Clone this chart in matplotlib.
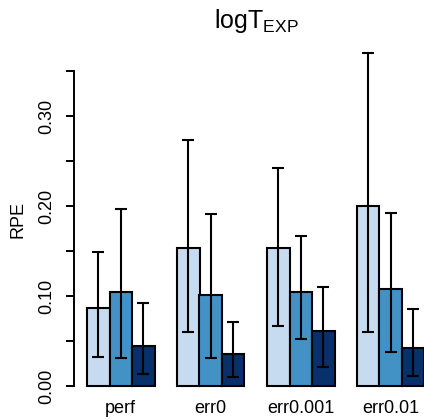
"""Grouped bar chart of RPE with asymmetric error bars (logT_EXP)."""
import matplotlib
matplotlib.use("Agg")
import matplotlib.pyplot as plt
import numpy as np

plt.rcParams['font.family'] = ['Liberation Sans', 'DejaVu Sans']
plt.rcParams['mathtext.fontset'] = 'custom'
plt.rcParams['mathtext.rm'] = 'Liberation Sans'

# data
groups = ["perf", "err0", "err0.001", "err0.01"]
series_means = [
    [0.087, 0.154, 0.154, 0.200],   # light
    [0.105, 0.101, 0.105, 0.108],   # mid
    [0.045, 0.036, 0.062, 0.043],   # dark
]
series_low = [
    [0.033, 0.060, 0.067, 0.060],
    [0.032, 0.031, 0.053, 0.038],
    [0.014, 0.010, 0.021, 0.012],
]
series_high = [
    [0.149, 0.274, 0.243, 0.370],
    [0.197, 0.191, 0.167, 0.193],
    [0.093, 0.071, 0.110, 0.086],
]
colors = ["#C6DBEF", "#4292C6", "#08306B"]
yticks = [0.00, 0.05, 0.10, 0.15, 0.20, 0.25, 0.30, 0.35]
ylabels = ["0.00", "", "0.10", "", "0.20", "", "0.30", ""]

W, H = 424, 420
fig = plt.figure(figsize=(W / 100, H / 100), dpi=100)

# plot region in pixels (right edge lies beyond the figure, as in the original)
x0_px, x1_px = 73.5, 438.0
y_zero_px = 420 - 386.3
ppu = 900.0
ylo, yhi = -0.014, 0.40
ax = fig.add_axes([x0_px / W, (y_zero_px + ylo * ppu) / H,
                   (x1_px - x0_px) / W, (yhi - ylo) * ppu / H])
ax.set_xlim(0.4, 16.6)
ax.set_ylim(ylo, yhi)

ngroups = len(groups)
for j in range(3):
    lefts = np.array([1 + 4 * g + j for g in range(ngroups)], dtype=float)
    centers = lefts + 0.5
    means = np.array(series_means[j])
    ax.bar(lefts, means, width=1.0, align='edge', color=colors[j],
           edgecolor='black', linewidth=1.5, zorder=2)
    low = means - np.array(series_low[j])
    high = np.array(series_high[j]) - means
    ax.errorbar(centers, means, yerr=[low, high], fmt='none', ecolor='black',
                elinewidth=1.5, capsize=4.3, capthick=1.5, zorder=3,
                clip_on=False)

for s in ['top', 'right', 'bottom']:
    ax.spines[s].set_visible(False)
ax.spines['left'].set_bounds(0, 0.35)
ax.spines['left'].set_linewidth(1.4)

ax.set_yticks(yticks)
ax.set_yticklabels(ylabels, rotation=90, va='center', fontsize=13)
ax.tick_params(axis='y', length=6, width=1.4, pad=7)

ax.set_xticks([2.5 + 4 * g for g in range(ngroups)])
ax.set_xticklabels(groups, fontsize=13)
ax.tick_params(axis='x', length=0, pad=1)

fig.text(18 / W, 1 - 220 / H, "RPE", rotation=90, ha='center', va='center',
         fontsize=13)
fig.text(256 / W, 1 - 28 / H, r"$\mathrm{logT}_{\mathrm{EXP}}$",
         ha='center', va='baseline', fontsize=18)

fig.savefig("out.png", dpi=100)
